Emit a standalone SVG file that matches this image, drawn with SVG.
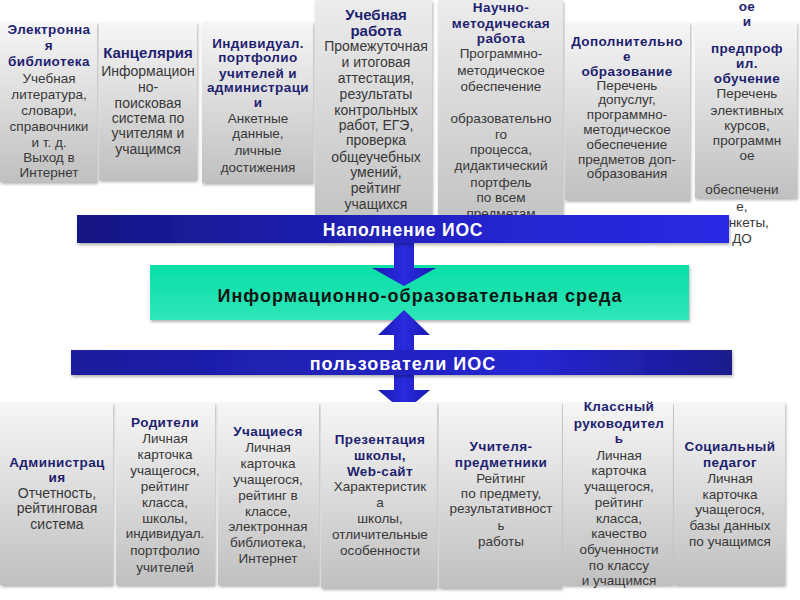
<svg xmlns="http://www.w3.org/2000/svg" width="800" height="600" viewBox="0 0 800 600">
<defs>
<linearGradient id="gbox" x1="0" y1="0" x2="0" y2="1">
<stop offset="0" stop-color="#f6f6f6"/>
<stop offset="1" stop-color="#c0c0c0"/>
</linearGradient>
<linearGradient id="gbox2" x1="0" y1="0" x2="0" y2="1">
<stop offset="0" stop-color="#ececec"/>
<stop offset="1" stop-color="#c4c4c4"/>
</linearGradient>
<linearGradient id="gband" x1="0" y1="0" x2="1" y2="0">
<stop offset="0" stop-color="#161684"/>
<stop offset="0.6" stop-color="#2424cc"/>
<stop offset="1" stop-color="#2a2ae6"/>
</linearGradient>
<linearGradient id="gband2" x1="0" y1="0" x2="1" y2="0">
<stop offset="0" stop-color="#1c1c9c"/>
<stop offset="0.7" stop-color="#2626d2"/>
<stop offset="1" stop-color="#1a1a8e"/>
</linearGradient>
<linearGradient id="garrow" x1="0" y1="0" x2="1" y2="0">
<stop offset="0" stop-color="#1a1ab0"/>
<stop offset="0.5" stop-color="#2a2ae0"/>
<stop offset="1" stop-color="#1a1ab0"/>
</linearGradient>
<linearGradient id="ggreen" x1="0" y1="0" x2="0" y2="1">
<stop offset="0" stop-color="#08dea6"/>
<stop offset="1" stop-color="#30e6b8"/>
</linearGradient>
<filter id="sh" x="-10%" y="-10%" width="130%" height="130%">
<feDropShadow dx="1" dy="2" stdDeviation="1.5" flood-color="#000" flood-opacity="0.3"/>
</filter>
<style>
text { font-family: "Liberation Sans", Arial, sans-serif; text-anchor: middle; }
.h { font-weight: bold; fill: #1f1f70; font-size: 13.5px; letter-spacing: 0.4px; }
.h2 { font-weight: bold; fill: #1f1f70; font-size: 15px; }
.b { fill: #383838; font-size: 13.5px; }
.b2 { fill: #383838; font-size: 14px; }
.box { fill: url(#gbox); filter: url(#sh); }
.box2 { fill: url(#gbox2); filter: url(#sh); }
.band { font-weight: bold; fill: #ffffff; }
</style>
</defs>

<!-- top row -->
<g id="n-elib">
<rect class="box" x="0" y="22" width="97" height="160"/>
<text x="49"><tspan class="h" y="34">Электронна</tspan><tspan class="h" x="49" y="50">я</tspan><tspan class="h" x="49" y="66">библиотека</tspan><tspan class="b" x="49" y="83">Учебная</tspan><tspan class="b" x="49" y="99">литература,</tspan><tspan class="b" x="49" y="115">словари,</tspan><tspan class="b" x="49" y="131">справочники</tspan><tspan class="b" x="49" y="147">и т. д.</tspan><tspan class="b" x="49" y="162">Выход в</tspan><tspan class="b" x="49" y="177">Интернет</tspan></text>
</g>
<g id="n-kanc">
<rect class="box" x="99" y="22" width="98" height="158"/>
<text x="148"><tspan class="h2" y="58">Канцелярия</tspan><tspan class="b2" x="148" y="76">Информацион</tspan><tspan class="b2" x="148" y="92">но-</tspan><tspan class="b2" x="148" y="108">поисковая</tspan><tspan class="b2" x="148" y="123">система по</tspan><tspan class="b2" x="148" y="138">учителям и</tspan><tspan class="b2" x="148" y="154">учащимся</tspan></text>
</g>
<g id="n-portf">
<rect class="box" x="202" y="22" width="111" height="161"/>
<text x="258"><tspan class="h" y="48">Индивидуал.</tspan><tspan class="h" x="258" y="62">портфолио</tspan><tspan class="h" x="258" y="78">учителей и</tspan><tspan class="h" x="258" y="92">администраци</tspan><tspan class="h" x="258" y="107">и</tspan><tspan class="b" x="258" y="123">Анкетные</tspan><tspan class="b" x="258" y="138">данные,</tspan><tspan class="b" x="258" y="155">личные</tspan><tspan class="b" x="258" y="172">достижения</tspan></text>
</g>
<g id="n-ucheb">
<rect class="box2" x="315" y="0" width="117" height="215"/>
<text x="376"><tspan class="h2" y="20">Учебная</tspan><tspan class="h2" x="376" y="36">работа</tspan><tspan class="b2" x="376" y="51">Промежуточная</tspan><tspan class="b2" x="376" y="67">и итоговая</tspan><tspan class="b2" x="376" y="83">аттестация,</tspan><tspan class="b2" x="376" y="99">результаты</tspan><tspan class="b2" x="376" y="115">контрольных</tspan><tspan class="b2" x="376" y="130">работ, ЕГЭ,</tspan><tspan class="b2" x="376" y="145">проверка</tspan><tspan class="b2" x="376" y="162">общеучебных</tspan><tspan class="b2" x="376" y="177">умений,</tspan><tspan class="b2" x="376" y="193">рейтинг</tspan><tspan class="b2" x="376" y="209">учащихся</tspan></text>
</g>
<g id="n-nauch">
<rect class="box2" x="438" y="0" width="125" height="215"/>
<text x="501"><tspan class="h" y="12">Научно-</tspan><tspan class="h" x="501" y="28">методическая</tspan><tspan class="h" x="501" y="43">работа</tspan><tspan class="b" x="501" y="58">Программно-</tspan><tspan class="b" x="501" y="75">методическое</tspan><tspan class="b" x="501" y="91">обеспечение</tspan><tspan class="b" x="501" y="123">образовательно</tspan><tspan class="b" x="501" y="139">го</tspan><tspan class="b" x="501" y="154">процесса,</tspan><tspan class="b" x="501" y="170">дидактический</tspan><tspan class="b" x="501" y="187">портфель</tspan><tspan class="b" x="501" y="202">по всем</tspan><tspan class="b" x="501" y="218">предметам</tspan></text>
</g>
<g id="n-dop">
<rect class="box" x="565" y="22" width="125" height="178"/>
<text x="627"><tspan class="h" y="46">Дополнительно</tspan><tspan class="h" x="627" y="61">е</tspan><tspan class="h" x="627" y="76">образование</tspan><tspan class="b" x="627" y="90">Перечень</tspan><tspan class="b" x="627" y="104">допуслуг,</tspan><tspan class="b" x="627" y="119">программно-</tspan><tspan class="b" x="627" y="134">методическое</tspan><tspan class="b" x="627" y="149">обеспечение</tspan><tspan class="b" x="627" y="164">предметов доп-</tspan><tspan class="b" x="627" y="178">образования</tspan></text>
</g>
<g id="n-predprof">
<rect class="box" x="695" y="22" width="102" height="176"/>
<text x="747"><tspan class="h" y="11">ое</tspan><tspan class="h" x="747" y="26">и</tspan><tspan class="h" x="747" y="53">предпроф</tspan><tspan class="h" x="747" y="68">ил.</tspan><tspan class="h" x="747" y="83">обучение</tspan><tspan class="b" x="747" y="98">Перечень</tspan><tspan class="b" x="747" y="115">элективных</tspan><tspan class="b" x="747" y="130">курсов,</tspan><tspan class="b" x="747" y="145">программн</tspan><tspan class="b" x="747" y="160">ое</tspan><tspan class="b" x="742" y="194">обеспечени</tspan><tspan class="b" x="742" y="211">е,</tspan><tspan class="b" x="745" y="227">анкеты,</tspan><tspan class="b" x="742" y="243">ДО</tspan></text>
</g>

<!-- center -->
<g id="n-ios">
<rect x="150" y="265" width="539" height="55" fill="url(#ggreen)" filter="url(#sh)"/>
<text x="420" y="302" style="font-size:18px;font-weight:bold;letter-spacing:1px;fill:#141414;">Информационно-образовательная среда</text>
</g>

<g id="connectors">
<polygon points="394,243 414,243 414,268 436,268 404,286 372,268 394,268" fill="url(#garrow)"/>
<polygon points="404,310 430,335 414,335 414,390 430,390 404,412 378,390 394,390 394,335 378,335" fill="url(#garrow)"/>
</g>

<g id="n-fill">
<rect x="77" y="215" width="652" height="28" fill="url(#gband)" filter="url(#sh)"/>
<text class="band" x="403" y="236" style="font-size:17.5px;letter-spacing:0.8px;">Наполнение  ИОС</text>
</g>
<g id="n-users">
<rect x="71" y="350" width="661" height="25" fill="url(#gband2)" filter="url(#sh)"/>
<text class="band" x="403" y="370" style="font-size:18px;letter-spacing:1px;">пользователи ИОС</text>
</g>

<!-- bottom row -->
<g id="n-adm">
<rect class="box" x="0" y="402" width="113" height="183"/>
<text x="57"><tspan class="h" y="467">Администрац</tspan><tspan class="h" x="57" y="482">ия</tspan><tspan class="b2" x="57" y="498">Отчетность,</tspan><tspan class="b2" x="57" y="513">рейтинговая</tspan><tspan class="b2" x="57" y="529">система</tspan></text>
</g>
<g id="n-par">
<rect class="box" x="116" y="402" width="99" height="183"/>
<text x="165"><tspan class="h" y="427">Родители</tspan><tspan class="b" x="165" y="443">Личная</tspan><tspan class="b" x="165" y="459">карточка</tspan><tspan class="b" x="165" y="475">учащегося,</tspan><tspan class="b" x="165" y="491">рейтинг</tspan><tspan class="b" x="165" y="507">класса,</tspan><tspan class="b" x="165" y="523">школы,</tspan><tspan class="b" x="165" y="538">индивидуал.</tspan><tspan class="b" x="165" y="555">портфолио</tspan><tspan class="b" x="165" y="572">учителей</tspan></text>
</g>
<g id="n-stud">
<rect class="box" x="218" y="402" width="101" height="183"/>
<text x="268"><tspan class="h" y="436">Учащиеся</tspan><tspan class="b" x="268" y="452">Личная</tspan><tspan class="b" x="268" y="468">карточка</tspan><tspan class="b" x="268" y="484">учащегося,</tspan><tspan class="b" x="268" y="500">рейтинг в</tspan><tspan class="b" x="268" y="516">классе,</tspan><tspan class="b" x="268" y="531">электронная</tspan><tspan class="b" x="268" y="547">библиотека,</tspan><tspan class="b" x="268" y="563">Интернет</tspan></text>
</g>
<g id="n-pres">
<rect class="box" x="321" y="402" width="116" height="186"/>
<text x="380"><tspan class="h" y="444">Презентация</tspan><tspan class="h" x="380" y="460">школы,</tspan><tspan class="h" x="380" y="476">Web-сайт</tspan><tspan class="b" x="380" y="491">Характеристик</tspan><tspan class="b" x="380" y="507">а</tspan><tspan class="b" x="380" y="523">школы,</tspan><tspan class="b" x="380" y="539">отличительные</tspan><tspan class="b" x="380" y="555">особенности</tspan></text>
</g>
<g id="n-teach">
<rect class="box" x="439" y="402" width="123" height="186"/>
<text x="501"><tspan class="h" y="451">Учителя-</tspan><tspan class="h" x="501" y="467">предметники</tspan><tspan class="b" x="501" y="483">Рейтинг</tspan><tspan class="b" x="501" y="498">по предмету,</tspan><tspan class="b" x="501" y="513">результативност</tspan><tspan class="b" x="501" y="530">ь</tspan><tspan class="b" x="501" y="546">работы</tspan></text>
</g>
<g id="n-cls">
<rect class="box" x="563" y="402" width="110" height="183"/>
<text x="619"><tspan class="h" y="411">Классный</tspan><tspan class="h" x="619" y="428">руководител</tspan><tspan class="h" x="619" y="443">ь</tspan><tspan class="b" x="619" y="460">Личная</tspan><tspan class="b" x="619" y="475">карточка</tspan><tspan class="b" x="619" y="491">учащегося,</tspan><tspan class="b" x="619" y="507">рейтинг</tspan><tspan class="b" x="619" y="523">класса,</tspan><tspan class="b" x="619" y="538">качество</tspan><tspan class="b" x="619" y="554">обученности</tspan><tspan class="b" x="619" y="570">по классу</tspan><tspan class="b" x="619" y="585">и учащимся</tspan></text>
</g>
<g id="n-soc">
<rect class="box" x="674" y="402" width="111" height="183"/>
<text x="730"><tspan class="h" y="451">Социальный</tspan><tspan class="h" x="730" y="467">педагог</tspan><tspan class="b" x="730" y="483">Личная</tspan><tspan class="b" x="730" y="499">карточка</tspan><tspan class="b" x="730" y="514">учащегося,</tspan><tspan class="b" x="730" y="530">базы данных</tspan><tspan class="b" x="730" y="546">по учащимся</tspan></text>
</g>
</svg>
